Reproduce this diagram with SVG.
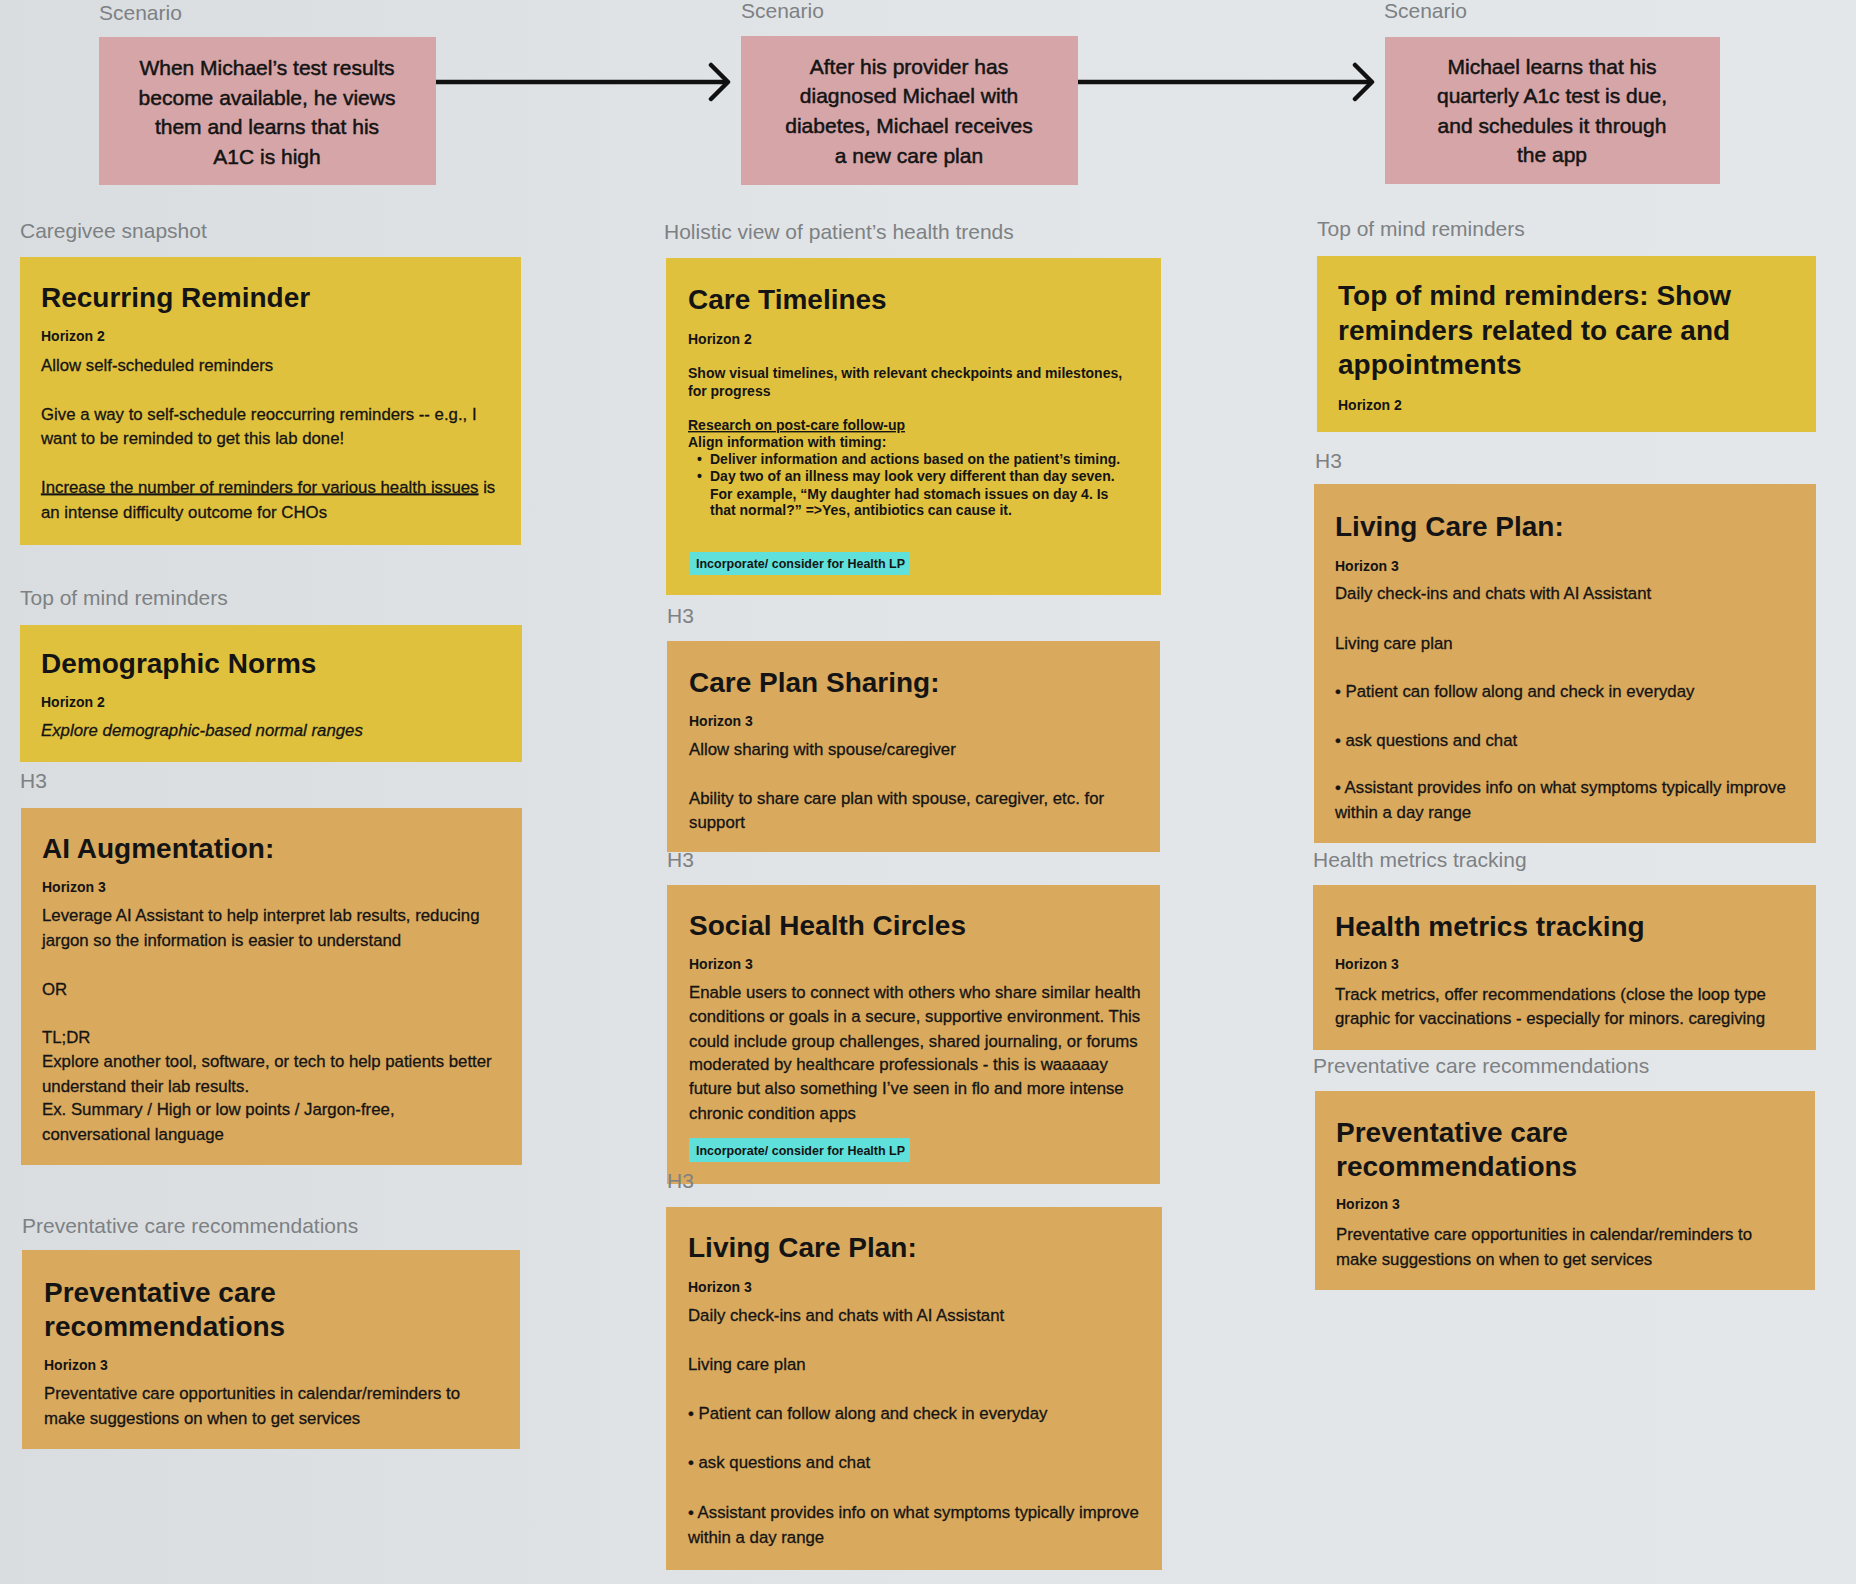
<svg xmlns="http://www.w3.org/2000/svg" width="1856" height="1584" viewBox="0 0 1856 1584">
<defs>
<linearGradient id="bgg" x1="0" y1="0" x2="1" y2="0">
<stop offset="0" stop-color="#d9dddf"/>
<stop offset="0.5" stop-color="#e2e5e7"/>
<stop offset="1" stop-color="#e4e7e9"/>
</linearGradient>
<marker id="chev" markerUnits="userSpaceOnUse" viewBox="0 0 24 40" markerWidth="24" markerHeight="40" refX="21" refY="20" orient="auto">
<path d="M4,3 L21,20 L4,37" fill="none" stroke="#111" stroke-width="4.5" stroke-linecap="round" stroke-linejoin="round"/>
</marker>
<style>
.pink{fill:#d6a5a8}
.yel{fill:#e0c13e}
.tan{fill:#d9a95d}
.tag{fill:#5fe0da}
text{font-family:"Liberation Sans",Arial,sans-serif;fill:#141414}
.lbl{font-size:21px;fill:#7d8184}
.scn{font-size:21px;text-anchor:middle;stroke:#141414;stroke-width:0.5}
.ttl{font-size:28px;font-weight:bold}
.hz{font-size:14px;font-weight:bold}
.bd{font-size:16.8px;stroke:#141414;stroke-width:0.3}
.bb{font-size:14px;font-weight:bold}
.tg{font-size:12.5px;font-weight:bold}
.u{text-decoration:underline}
.it{font-style:italic}
</style>
</defs>
<rect x="0" y="0" width="1856" height="1584" fill="url(#bgg)"/>

<g id="connectors">
<line x1="436" y1="82" x2="728" y2="82" stroke="#111" stroke-width="4.5" marker-end="url(#chev)"/>
<line x1="1078" y1="82" x2="1372" y2="82" stroke="#111" stroke-width="4.5" marker-end="url(#chev)"/>
</g>

<g id="scenario1">
<rect class="pink" x="99" y="37" width="337" height="148"/>
<text class="scn" x="267" y="75">When Michael’s test results</text>
<text class="scn" x="267" y="104.5">become available, he views</text>
<text class="scn" x="267" y="134">them and learns that his</text>
<text class="scn" x="267" y="163.5">A1C is high</text>
</g>

<g id="scenario2">
<rect class="pink" x="741" y="36" width="337" height="149"/>
<text class="scn" x="909" y="73.5">After his provider has</text>
<text class="scn" x="909" y="103">diagnosed Michael with</text>
<text class="scn" x="909" y="133">diabetes, Michael receives</text>
<text class="scn" x="909" y="163">a new care plan</text>
</g>

<g id="scenario3">
<rect class="pink" x="1385" y="37" width="335" height="147"/>
<text class="scn" x="1552" y="73.5">Michael learns that his</text>
<text class="scn" x="1552" y="103">quarterly A1c test is due,</text>
<text class="scn" x="1552" y="132.5">and schedules it through</text>
<text class="scn" x="1552" y="162">the app</text>
</g>

<g id="recurring-reminder">
<rect class="yel" x="20" y="257" width="501" height="288"/>
<text class="ttl" x="41" y="307">Recurring Reminder</text>
<text class="hz" x="41" y="341">Horizon 2</text>
<text class="bd" x="41" y="370.5">Allow self-scheduled reminders</text>
<text class="bd" x="41" y="420">Give a way to self-schedule reoccurring reminders -- e.g., I</text>
<text class="bd" x="41" y="444">want to be reminded to get this lab done!</text>
<text class="bd" x="41" y="492.5"><tspan class="u">Increase the number of reminders for various health issues</tspan> is</text>
<text class="bd" x="41" y="517.5">an intense difficulty outcome for CHOs</text>
</g>

<g id="demographic-norms">
<rect class="yel" x="20" y="625" width="502" height="137"/>
<text class="ttl" x="41" y="673">Demographic Norms</text>
<text class="hz" x="41" y="707">Horizon 2</text>
<text class="bd it" x="41" y="736">Explore demographic-based normal ranges</text>
</g>

<g id="ai-augmentation">
<rect class="tan" x="21" y="808" width="501" height="357"/>
<text class="ttl" x="42" y="857.5">AI Augmentation:</text>
<text class="hz" x="42" y="891.5">Horizon 3</text>
<text class="bd" x="42" y="921">Leverage AI Assistant to help interpret lab results, reducing</text>
<text class="bd" x="42" y="946">jargon so the information is easier to understand</text>
<text class="bd" x="42" y="994.5">OR</text>
<text class="bd" x="42" y="1043">TL;DR</text>
<text class="bd" x="42" y="1066.5">Explore another tool, software, or tech to help patients better</text>
<text class="bd" x="42" y="1091.5">understand their lab results.</text>
<text class="bd" x="42" y="1115">Ex. Summary / High or low points / Jargon-free,</text>
<text class="bd" x="42" y="1140">conversational language</text>
</g>

<g id="preventative-care-1">
<rect class="tan" x="22" y="1250" width="498" height="199"/>
<text class="ttl" x="44" y="1301.5">Preventative care</text>
<text class="ttl" x="44" y="1335.5">recommendations</text>
<text class="hz" x="44" y="1370">Horizon 3</text>
<text class="bd" x="44" y="1399">Preventative care opportunities in calendar/reminders to</text>
<text class="bd" x="44" y="1424">make suggestions on when to get services</text>
</g>

<g id="care-timelines">
<rect class="yel" x="666" y="258" width="495" height="337"/>
<text class="ttl" x="688" y="308.5">Care Timelines</text>
<text class="hz" x="688" y="343.5">Horizon 2</text>
<text class="bb" x="688" y="378">Show visual timelines, with relevant checkpoints and milestones,</text>
<text class="bb" x="688" y="395.5">for progress</text>
<text class="bb u" x="688" y="430">Research on post-care follow-up</text>
<text class="bb" x="688" y="446.5">Align information with timing:</text>
<text class="bb" x="697" y="464">•</text>
<text class="bb" x="710" y="464">Deliver information and actions based on the patient’s timing.</text>
<text class="bb" x="697" y="481">•</text>
<text class="bb" x="710" y="481">Day two of an illness may look very different than day seven.</text>
<text class="bb" x="710" y="498.5">For example, “My daughter had stomach issues on day 4. Is</text>
<text class="bb" x="710" y="515">that normal?” =&gt;Yes, antibiotics can cause it.</text>
<rect class="tag" x="689" y="552" width="220" height="23"/>
<text class="tg" x="696" y="568">Incorporate/ consider for Health LP</text>
</g>

<g id="care-plan-sharing">
<rect class="tan" x="667" y="641" width="493" height="211"/>
<text class="ttl" x="689" y="692">Care Plan Sharing:</text>
<text class="hz" x="689" y="726">Horizon 3</text>
<text class="bd" x="689" y="755">Allow sharing with spouse/caregiver</text>
<text class="bd" x="689" y="804">Ability to share care plan with spouse, caregiver, etc. for</text>
<text class="bd" x="689" y="827.5">support</text>
</g>

<g id="social-health-circles">
<rect class="tan" x="667" y="885" width="493" height="299"/>
<text class="ttl" x="689" y="934.5">Social Health Circles</text>
<text class="hz" x="689" y="968.5">Horizon 3</text>
<text class="bd" x="689" y="998">Enable users to connect with others who share similar health</text>
<text class="bd" x="689" y="1021.5">conditions or goals in a secure, supportive environment. This</text>
<text class="bd" x="689" y="1046.5">could include group challenges, shared journaling, or forums</text>
<text class="bd" x="689" y="1070">moderated by healthcare professionals - this is waaaaay</text>
<text class="bd" x="689" y="1094">future but also something I’ve seen in flo and more intense</text>
<text class="bd" x="689" y="1118.5">chronic condition apps</text>
<rect class="tag" x="689" y="1138" width="221" height="24"/>
<text class="tg" x="696" y="1155">Incorporate/ consider for Health LP</text>
</g>

<g id="living-care-plan-2">
<rect class="tan" x="666" y="1207" width="496" height="363"/>
<text class="ttl" x="688" y="1256.5">Living Care Plan:</text>
<text class="hz" x="688" y="1291.5">Horizon 3</text>
<text class="bd" x="688" y="1321">Daily check-ins and chats with AI Assistant</text>
<text class="bd" x="688" y="1369.5">Living care plan</text>
<text class="bd" x="688" y="1419">• Patient can follow along and check in everyday</text>
<text class="bd" x="688" y="1468">• ask questions and chat</text>
<text class="bd" x="688" y="1517.5">• Assistant provides info on what symptoms typically improve</text>
<text class="bd" x="688" y="1542.5">within a day range</text>
</g>

<g id="top-of-mind-reminders">
<rect class="yel" x="1317" y="256" width="499" height="176"/>
<text class="ttl" x="1338" y="305">Top of mind reminders: Show</text>
<text class="ttl" x="1338" y="339.5">reminders related to care and</text>
<text class="ttl" x="1338" y="373.5">appointments</text>
<text class="hz" x="1338" y="410">Horizon 2</text>
</g>

<g id="living-care-plan-3">
<rect class="tan" x="1314" y="484" width="502" height="359"/>
<text class="ttl" x="1335" y="535.5">Living Care Plan:</text>
<text class="hz" x="1335" y="570.5">Horizon 3</text>
<text class="bd" x="1335" y="599">Daily check-ins and chats with AI Assistant</text>
<text class="bd" x="1335" y="648.5">Living care plan</text>
<text class="bd" x="1335" y="697">• Patient can follow along and check in everyday</text>
<text class="bd" x="1335" y="746">• ask questions and chat</text>
<text class="bd" x="1335" y="793">• Assistant provides info on what symptoms typically improve</text>
<text class="bd" x="1335" y="818">within a day range</text>
</g>

<g id="health-metrics-tracking">
<rect class="tan" x="1313" y="885" width="503" height="165"/>
<text class="ttl" x="1335" y="935.5">Health metrics tracking</text>
<text class="hz" x="1335" y="968.5">Horizon 3</text>
<text class="bd" x="1335" y="1000">Track metrics, offer recommendations (close the loop type</text>
<text class="bd" x="1335" y="1024">graphic for vaccinations - especially for minors. caregiving</text>
</g>

<g id="preventative-care-3">
<rect class="tan" x="1315" y="1091" width="500" height="199"/>
<text class="ttl" x="1336" y="1141.5">Preventative care</text>
<text class="ttl" x="1336" y="1176">recommendations</text>
<text class="hz" x="1336" y="1209">Horizon 3</text>
<text class="bd" x="1336" y="1239.5">Preventative care opportunities in calendar/reminders to</text>
<text class="bd" x="1336" y="1264.5">make suggestions on when to get services</text>
</g>

<g id="labels">
<text class="lbl" x="99" y="20">Scenario</text>
<text class="lbl" x="741" y="18">Scenario</text>
<text class="lbl" x="1384" y="18">Scenario</text>
<text class="lbl" x="20" y="238">Caregivee snapshot</text>
<text class="lbl" x="20" y="605">Top of mind reminders</text>
<text class="lbl" x="20" y="788">H3</text>
<text class="lbl" x="22" y="1233">Preventative care recommendations</text>
<text class="lbl" x="664" y="239">Holistic view of patient’s health trends</text>
<text class="lbl" x="667" y="623">H3</text>
<text class="lbl" x="667" y="867">H3</text>
<text class="lbl" x="667" y="1188">H3</text>
<text class="lbl" x="1317" y="236">Top of mind reminders</text>
<text class="lbl" x="1315" y="468">H3</text>
<text class="lbl" x="1313" y="867">Health metrics tracking</text>
<text class="lbl" x="1313" y="1073">Preventative care recommendations</text>
</g>
</svg>
